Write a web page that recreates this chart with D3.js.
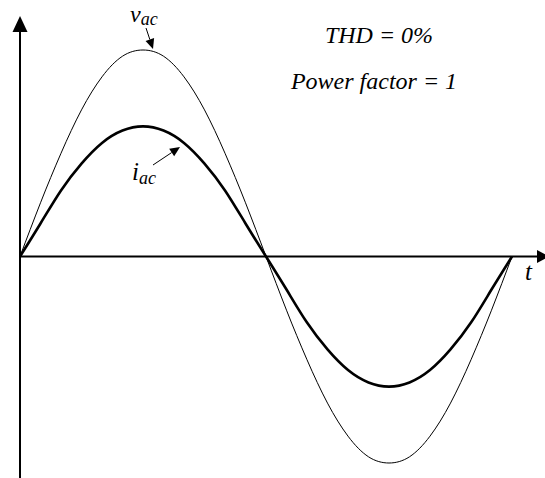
<!DOCTYPE html>
<html><head><meta charset="utf-8">
<script src="https://cdn.jsdelivr.net/npm/d3@7"></script>
<style>body{margin:0;background:#fff}svg{display:block}</style>
</head><body><svg id="c" width="545" height="478"></svg>
<script>
// phase angle (degrees) over one period
const phase = [0,15,30,45,60,75,90,105,120,135,150,165,180,195,210,225,240,255,270,285,300,315,330,345,360];
// v_ac (normalised to its peak)
const vac = [0,0.26,0.5,0.71,0.87,0.97,1,0.97,0.87,0.71,0.5,0.26,0,-0.26,-0.5,-0.71,-0.87,-0.97,-1,-0.97,-0.87,-0.71,-0.5,-0.26,0];
// i_ac (same scale, in phase, ~63% of v peak)
const iac = [0,0.16,0.32,0.45,0.55,0.61,0.63,0.61,0.55,0.45,0.32,0.16,0,-0.16,-0.32,-0.45,-0.55,-0.61,-0.63,-0.61,-0.55,-0.45,-0.32,-0.16,0];
const notes = ["THD = 0%","Power factor = 1"];

const FONT = "Liberation Serif";
const svg = d3.select("#c");
const x = d3.scaleLinear().domain([0,360]).range([20,512]);
const y = d3.scaleLinear().domain([-1,1]).range([463,50]);

// axes
svg.append("line").attr("x1",x(0)).attr("x2",540).attr("y1",y(0)).attr("y2",y(0)).attr("stroke","#000").attr("stroke-width",2);
svg.append("line").attr("x1",x(0)).attr("x2",x(0)).attr("y1",478).attr("y2",30).attr("stroke","#000").attr("stroke-width",2);
svg.append("path").attr("d",`M${x(0)},16 L${x(0)-7.5},32 L${x(0)+7.5},32 Z`).attr("fill","#000");
svg.append("path").attr("d",`M549,${y(0)} L537,${y(0)-6.5} L537,${y(0)+6.5} Z`).attr("fill","#000");

const line = d3.line().x((d,i)=>x(phase[i])).y(d=>y(d)).curve(d3.curveNatural);
svg.append("path").attr("d",line(vac)).attr("fill","none").attr("stroke","#000").attr("stroke-width",1);
svg.append("path").attr("d",line(iac)).attr("fill","none").attr("stroke","#000").attr("stroke-width",2.6);

function txt(xp,yp,size){
  return svg.append("text").attr("x",xp).attr("y",yp)
    .attr("font-family",FONT).attr("font-style","italic").attr("font-size",size).attr("fill","#000");
}
// labels
const lv = txt(130,22,24);
lv.append("tspan").text("v");
lv.append("tspan").attr("dy",3).attr("font-size",18).text("ac");
const li = txt(132,180,25);
li.append("tspan").text("i");
li.append("tspan").attr("dy",4).attr("font-size",18).text("ac");
txt(525,280,25).text("t");

txt(379,43,24).attr("text-anchor","middle").text(notes[0]);
txt(374,89,24).attr("text-anchor","middle").text(notes[1]);

// pointer arrows
function arrow(x1,y1,x2,y2){
  const a=Math.atan2(y2-y1,x2-x1), L=10, W=4.5;
  const bx=x2-L*Math.cos(a), by=y2-L*Math.sin(a);
  svg.append("line").attr("x1",x1).attr("y1",y1).attr("x2",bx).attr("y2",by).attr("stroke","#000").attr("stroke-width",1);
  svg.append("path").attr("d",`M${x2},${y2} L${bx-W*Math.sin(a)},${by+W*Math.cos(a)} L${bx+W*Math.sin(a)},${by-W*Math.cos(a)} Z`).attr("fill","#000");
}
arrow(146,28,153,49);
arrow(153,165,180,147);
</script></body></html>
